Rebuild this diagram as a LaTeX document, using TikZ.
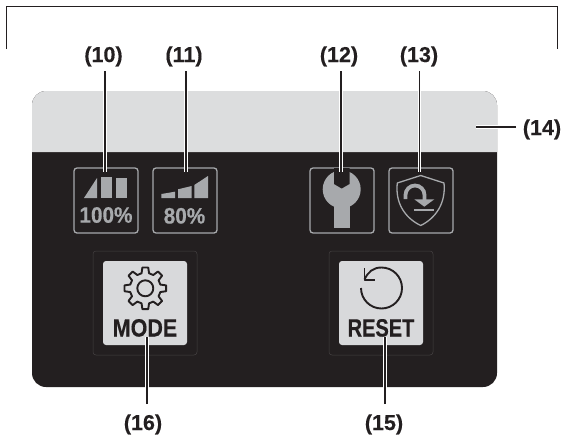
\documentclass[tikz,border=0pt]{standalone}
\usepackage{fontspec}
\setmainfont{Liberation Sans}[BoldFeatures={FakeBold=0.4}]
\definecolor{paneldark}{HTML}{231F20}
\definecolor{panellight}{HTML}{DCDDDE}
\definecolor{icongray}{HTML}{A7A9AC}
\definecolor{keygray}{HTML}{D8D9DB}
\newcommand{\lbl}{\node[anchor=base, inner sep=0, text=paneldark, font=\fontsize{21.5}{21.5}\bfseries]}
\newcommand{\percent}{\node[anchor=base, inner sep=0, xscale=0.93, text=icongray, font=\fontsize{22.3}{22.3}\bfseries]}
\newcommand{\iconbox}{\node[draw=icongray, line width=1.3pt, rounded corners=3pt, minimum width=64pt, minimum height=65pt, inner sep=0]}
\newcommand{\keyrim}{\node[draw=paneldark!85!white, line width=0.5pt, rounded corners=3pt, minimum width=104pt, minimum height=104pt, inner sep=0]}
\newcommand{\keypad}{\node[fill=keygray, rounded corners=3pt, minimum width=84pt, minimum height=84pt, inner sep=0]}
\newcommand{\keytext}{\node[anchor=base, inner sep=0, text=paneldark, font=\fontsize{25}{25}\bfseries]}
\tikzset{
    leaderline/.style={draw=paneldark, line width=1.2pt, preaction={draw=white, line width=3.4pt}},
    gearline/.style={draw=paneldark, line width=1.9pt, line join=round},
}

\begin{document}
\begin{tikzpicture}[x=1pt, y=-1pt]
    \useasboundingbox (0,0) rectangle (564,439);

    % bracket
    \coordinate (bl) at (6.5,49);
    \coordinate (tl) at (6.5,6.5);
    \coordinate (tr) at (557,6.5);
    \coordinate (br) at (557,49);
    \draw[paneldark, line width=1pt] (bl) -- (tl) -- (tr) -- (br);

    % panel
    \fill[paneldark, rounded corners=14pt] (32,91) rectangle (497,387);
    \fill[panellight, rounded corners=14pt] (32,152) [sharp corners] -- (32,152) [rounded corners=14pt] -- (32,91) -- (497,91) [sharp corners] -- (497,152) -- cycle;

    % icon boxes
    \iconbox (box10) at (106,200.5) {};
    \iconbox (box11) at (185,200.5) {};
    \iconbox (box12) at (342,200.5) {};
    \iconbox (box13) at (421,200.5) {};

    % 100%
    \fill[icongray] (84,198) -- (97,178) -- (97,198) -- cycle;
    \fill[icongray] (101,177) rectangle (112,198);
    \fill[icongray] (116,178) rectangle (127,198);
    \percent (txt10) at (106,222.7) {100\%};

    % 80%
    \fill[icongray] (161.3,194) -- (175,191.7) -- (175,198) -- (161.3,198) -- cycle;
    \fill[icongray] (178,189.3) -- (191.7,186) -- (191.7,198) -- (178,198) -- cycle;
    \fill[icongray] (194.3,185) -- (208,176) -- (208,198) -- (194.3,198) -- cycle;
    \percent (txt11) at (184.5,223.5) {80\%};

    % wrench
    \fill[icongray] (341.7,189.3) circle (19);
    \fill[icongray] (334,200) rectangle (350,228);
    \fill[paneldark] (334,168) -- (349.5,168) -- (349.5,184) -- (341.7,188.5) -- (334,184) -- cycle;

    % shield
    \draw[icongray, line width=1.3pt, line join=round] (420.7,175.5) -- (444,183)
        .. controls (446,203) and (436,218) .. (420.7,225.5)
        .. controls (405,218) and (395,203) .. (397.3,183) -- cycle;
    \draw[icongray, line width=3.8pt] (405.5,199) -- (405.5,195) arc (180:360:9.5) -- (424.5,201);
    \fill[icongray] (414.3,199.3) -- (434.3,199.3) -- (424.3,206.7) -- cycle;
    \fill[icongray] (414,208.5) rectangle (434,210.7);

    % mode key
    \keyrim (rim16) at (145,303) {};
    \keypad (key16) at (145,303) {};
    \draw[gearline, shift={(145.3,288.3)}] (-14:15.5)
        \foreach \a in {0,45,...,315} { -- (\a-14:15.5) -- (\a-8:21) -- (\a+8:21) -- (\a+14:15.5) } -- cycle;
    \draw[gearline] (145.3,288.3) circle (8);
    \keytext[xscale=0.86] (txt16) at (145,336.5) {MODE};

    % reset key
    \keyrim (rim15) at (381,303) {};
    \keypad (key15) at (381,303) {};
    \draw[gearline, line width=1.9pt] (361,288) arc (180:-90:20.5) .. controls (373,267.5) and (368,272) .. (364.5,279.5);
    \draw[gearline, line width=1.9pt] (364.5,268) -- (364.5,280) -- (375,280);
    \keytext[xscale=0.8] (txt15) at (381,336.5) {RESET};

    % labels
    \lbl (l10) at (103.5,62) {(10)};
    \lbl (l11) at (184,62) {(11)};
    \lbl (l12) at (339,62) {(12)};
    \lbl (l13) at (419,62) {(13)};
    \lbl (l14) at (542,135) {(14)};
    \lbl (l15) at (384,430) {(15)};
    \lbl (l16) at (143,430) {(16)};

    % leaders
    \coordinate (t10) at (105,71);
    \coordinate (t11) at (186,71);
    \coordinate (t12) at (341,71);
    \coordinate (t13) at (419.5,71);
    \coordinate (e10) at (105,172);
    \coordinate (e11) at (186,172);
    \coordinate (e12) at (341,172);
    \coordinate (e13) at (419.5,172);
    \coordinate (t14) at (516,127);
    \coordinate (e14) at (476,127);
    \coordinate (t15) at (385,404);
    \coordinate (e15) at (385,337);
    \coordinate (t16) at (147,404);
    \coordinate (e16) at (147,337);

    \draw[leaderline]
        (t10) -- (e10)
        (t11) -- (e11)
        (t12) -- (e12)
        (t13) -- (e13)
        (t14) -- (e14)
        (t15) -- (e15)
        (t16) -- (e16)
        ;
\end{tikzpicture}
\end{document}
